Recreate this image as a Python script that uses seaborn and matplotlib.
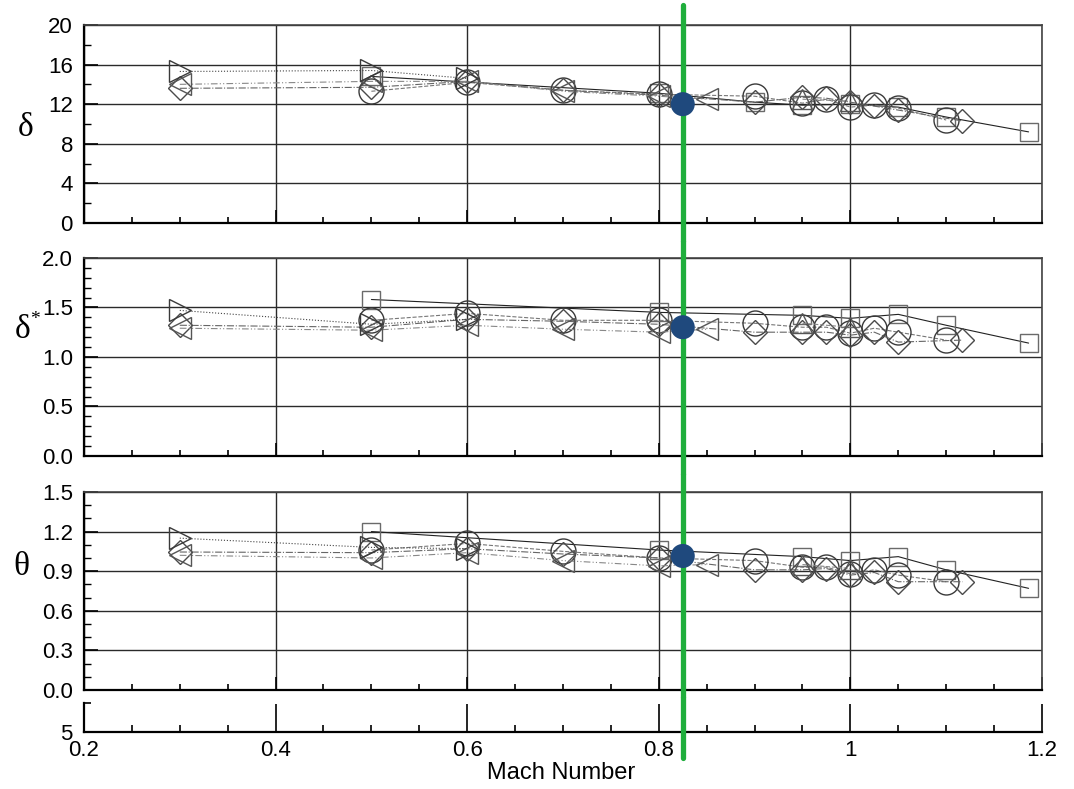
import numpy as np
import pandas as pd
import matplotlib
matplotlib.use("Agg")
import matplotlib.pyplot as plt
import seaborn as sns
from matplotlib.ticker import MultipleLocator, FixedLocator, FixedFormatter
from matplotlib.transforms import blended_transform_factory

nan = np.nan

# Mach numbers of each measurement series
mach_sq = [0.5, 0.8, 0.9, 0.95, 1.0, 1.05, 1.1, 1.186]
mach_ci = [0.5, 0.6, 0.7, 0.8, 0.9, 0.95, 0.975, 1.0, 1.025, 1.05, 1.1]
mach_di = [0.3, 0.5, 0.6, 0.7, 0.8, 0.9, 0.95, 0.975, 1.0, 1.025, 1.05, 1.117]
mach_tl = [0.3, 0.5, 0.6, 0.7, 0.8, 0.85]
mach_tr = [0.3, 0.5, 0.6]
mach_tu = [0.95, 1.0]

# boundary layer thickness delta
delta_sq = [14.8, 13.1, 12.2, 11.9, 12.0, 11.7, 10.7, 9.2]
delta_ci = [13.3, 14.2, 13.4, 13.0, 12.8, 12.1, 12.5, 11.7, 11.9, 11.6, 10.4]
delta_di = [13.6, 13.7, 14.3, 13.4, 12.9, 12.2, 12.7, 12.6, 12.2, 11.8, 11.4, 10.3]
delta_tl = [14.0, 14.3, 14.3, 13.3, 12.8, 12.5]
delta_tr = [15.3, 15.4, 14.6]
delta_tu = [12.5, 12.3]

# displacement thickness delta*
dstar_sq = [1.58, 1.45, nan, 1.42, 1.39, 1.43, 1.32, 1.14]
dstar_ci = [1.37, 1.44, 1.37, 1.37, 1.34, 1.30, 1.30, 1.24, 1.29, 1.25, 1.17]
dstar_di = [1.32, 1.30, 1.38, 1.36, 1.33, 1.25, 1.25, 1.25, 1.22, 1.25, 1.15, 1.17]
dstar_tl = [1.29, 1.27, 1.32, 1.28, 1.25, 1.28]
dstar_tr = [1.47, 1.33, 1.38]
dstar_tu = [1.34, 1.30]

# momentum thickness theta
theta_sq = [1.20, 1.06, nan, 1.01, 0.98, 1.01, 0.91, 0.77]
theta_ci = [1.06, 1.11, 1.05, 1.00, 0.98, 0.93, 0.93, 0.88, 0.91, 0.87, 0.82]
theta_di = [1.045, 1.04, 1.07, 1.03, 1.00, 0.91, 0.91, 0.92, 0.87, 0.89, 0.82, 0.82]
theta_tl = [1.02, 1.00, 1.04, 0.98, 0.94, 0.95]
theta_tr = [1.15, 1.08, 1.07]
theta_tu = [0.95, 0.92]

highlight_mach = 0.825
highlight_vals = [12.0, 1.30, 1.015]

x_tick_vals = [0.2, 0.4, 0.6, 0.8, 1.0, 1.2]
x_tick_labels = ["0.2", "0.4", "0.6", "0.8", "1", "1.2"]

series = [
    ("sq", mach_sq, [delta_sq, dstar_sq, theta_sq]),
    ("ci", mach_ci, [delta_ci, dstar_ci, theta_ci]),
    ("di", mach_di, [delta_di, dstar_di, theta_di]),
    ("tl", mach_tl, [delta_tl, dstar_tl, theta_tl]),
    ("tr", mach_tr, [delta_tr, dstar_tr, theta_tr]),
    ("tu", mach_tu, [delta_tu, dstar_tu, theta_tu]),
]
styles = {
    "sq": dict(marker="s", ms=13, ls="-", lc="#222222", mc="#6a6a6a"),
    "ci": dict(marker="o", ms=18, ls="--", lc="#777777", mc="#3a3a3a"),
    "di": dict(marker="D", ms=12, ls="-.", lc="#666666", mc="#4a4a4a"),
    "tl": dict(marker="<", ms=16, ls=(0, (6, 2, 1, 2, 1, 2)), lc="#888888", mc="#555555"),
    "tr": dict(marker=">", ms=16, ls=":", lc="#444444", mc="#3a3a3a"),
    "tu": dict(marker="^", ms=15, ls="--", lc="#888888", mc="#555555"),
}

sns.set_style("white")
plt.rcParams["font.family"] = ["Liberation Sans", "DejaVu Sans"]
plt.rcParams["text.color"] = "black"
plt.rcParams["xtick.color"] = "black"
plt.rcParams["ytick.color"] = "black"

fig = plt.figure(figsize=(10.74, 7.89), dpi=100)
left, width, height = 0.0782, 0.892, 0.251
panels = [
    fig.add_axes([left, 0.7174, width, height]),
    fig.add_axes([left, 0.4221, width, height]),
    fig.add_axes([left, 0.1255, width, height]),
]
strip = fig.add_axes([left, 0.0722, width, 0.0368])

ylims = [(0, 20), (0, 2.0), (0, 1.5)]
ymajor = [4, 0.5, 0.3]
yminor = [2, 0.1, 0.1]
# green marker line split per panel (figure y fractions)
green_spans = [(0.695, 0.9937), (0.3992, 0.695), (0.1172, 0.3992), (0.0393, 0.1172)]

for i, ax in enumerate(panels):
    for name, mach, vals in series:
        df = pd.DataFrame({"mach": mach, "val": vals[i]}).dropna()
        st = styles[name]
        sns.lineplot(data=df, x="mach", y="val", ax=ax, estimator=None, sort=False,
                     marker=st["marker"], markersize=st["ms"], linestyle=st["ls"],
                     color=st["lc"], linewidth=0.8, markerfacecolor="none",
                     markeredgecolor=st["mc"], markeredgewidth=1.0, zorder=3)

    ax.set_xlim(0.2, 1.2)
    ax.set_ylim(*ylims[i])
    ax.xaxis.set_major_locator(MultipleLocator(0.2))
    ax.xaxis.set_minor_locator(MultipleLocator(0.05))
    ax.yaxis.set_major_locator(MultipleLocator(ymajor[i]))
    ax.yaxis.set_minor_locator(MultipleLocator(yminor[i]))
    ax.grid(True, which="major", color="#2a2a2a", linewidth=1.0)
    ax.set_axisbelow(True)
    ax.set_xlabel("")
    ax.set_ylabel("")
    ax.tick_params(axis="x", which="both", direction="in", bottom=True, labelbottom=False)
    ax.tick_params(axis="x", which="major", length=9.5, width=1.2)
    ax.tick_params(axis="x", which="minor", length=4.5, width=1.2)
    ax.tick_params(axis="y", which="both", direction="in", left=True)
    ax.tick_params(axis="y", which="major", length=10, width=1.2, labelsize=16, pad=8)
    ax.tick_params(axis="y", which="minor", length=5, width=1.0)
    for side in ["left", "bottom"]:
        ax.spines[side].set_linewidth(1.6)
        ax.spines[side].set_color("black")
    for side in ["top", "right"]:
        ax.spines[side].set_linewidth(1.2)
        ax.spines[side].set_color("#444444")

    trans = blended_transform_factory(ax.transData, fig.transFigure)
    ax.plot([highlight_mach, highlight_mach], green_spans[i], transform=trans,
            color="#1fae3c", linewidth=3.8, clip_on=False, zorder=6)
    ax.scatter([highlight_mach], [highlight_vals[i]], s=300, color="#1f497d",
               edgecolor="none", zorder=10, clip_on=False)

# bottom strip carrying the Mach axis
strip.set_xlim(0.2, 1.2)
strip.set_ylim(5, 6)
strip.yaxis.set_major_locator(FixedLocator([5, 6]))
strip.yaxis.set_major_formatter(FixedFormatter(["5", ""]))
strip.xaxis.set_major_locator(FixedLocator(x_tick_vals))
strip.xaxis.set_major_formatter(FixedFormatter(x_tick_labels))
strip.xaxis.set_minor_locator(MultipleLocator(0.05))
strip.tick_params(axis="x", which="both", direction="in", bottom=True)
strip.tick_params(axis="x", which="major", length=20, width=1.2, labelsize=16, pad=6)
strip.tick_params(axis="x", which="minor", length=5, width=1.2)
strip.tick_params(axis="y", which="major", direction="in", left=True, length=5,
                  width=1.2, labelsize=16, pad=8)
strip.spines["top"].set_visible(False)
strip.spines["right"].set_visible(False)
strip.spines["left"].set_linewidth(1.6)
strip.spines["bottom"].set_linewidth(1.6)
strip.spines["left"].set_color("black")
strip.spines["bottom"].set_color("black")
strip.patch.set_alpha(0)
trans = blended_transform_factory(strip.transData, fig.transFigure)
strip.plot([highlight_mach, highlight_mach], green_spans[3], transform=trans,
           color="#1fae3c", linewidth=3.8, clip_on=False, zorder=6)

fig.text(0.522, 0.0203, "Mach Number", ha="center", va="center", fontsize=17)

serif = ["Liberation Serif", "DejaVu Serif"]
fig.text(0.0235, 0.838, "δ", ha="center", va="center", fontsize=24, family=serif)
fig.text(0.0215, 0.582, "δ", ha="center", va="center", fontsize=24, family=serif)
fig.text(0.0325, 0.595, "*", ha="center", va="center", fontsize=14, family=serif)
fig.text(0.0195, 0.282, "θ", ha="center", va="center", fontsize=24, family=serif)

fig.savefig("out.png", dpi=100)
